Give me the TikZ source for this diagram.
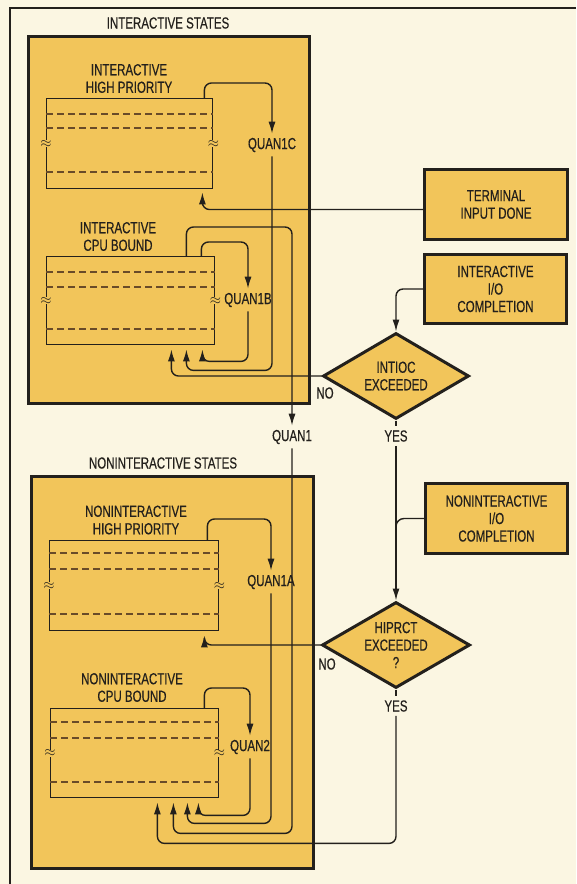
\documentclass[tikz,border=0pt]{standalone}
\usepackage{fontspec}
\setmainfont{Liberation Sans}[FakeStretch=0.72,FakeBold=0.4]
\usetikzlibrary{arrows.meta,shapes.geometric,calc}
\definecolor{bg}{RGB}{251,246,226}
\definecolor{gold}{RGB}{242,197,90}
\definecolor{ink}{RGB}{35,32,28}
\definecolor{dashc}{RGB}{105,75,40}
\begin{document}
\begin{tikzpicture}[x=1pt,y=-1pt,
  font=\fontsize{16}{17.5}\selectfont,
  every node/.style={text=ink},
  statebox/.style={draw=ink,fill=gold,line width=3pt,anchor=north west,inner sep=0pt},
  sidebox/.style={draw=ink,fill=gold,line width=3pt,anchor=north west,inner sep=0pt,align=center},
  queue/.style={draw=ink,line width=1.4pt,anchor=north west,inner sep=0pt},
  qdash/.style={draw=dashc,line width=1.2pt,dash pattern=on 7pt off 4pt},
  conn/.style={draw=ink,line width=1.4pt,rounded corners=7pt},
  arr/.style={-{Latex[length=12pt,width=7pt]}},
  decision/.style={diamond,draw=ink,fill=gold,line width=3pt,inner sep=0pt},
  lbl/.style={align=center,inner sep=1pt},
  qlbl/.style={inner xsep=1pt,inner ysep=4pt},
  tilde/.style={fill=gold,inner sep=0.2pt,font=\fontsize{14}{14}\selectfont},
]
\fill[bg] (0,0) rectangle (576,884);
\useasboundingbox (0,0) rectangle (576,884);
\draw[ink,line width=2pt] (10,884) -- (10,8) -- (576,8);

% state boxes
\node[statebox,minimum width=281pt,minimum height=367pt] (s1) at (27,35) {};
\node[statebox,minimum width=282pt,minimum height=392pt] (s2) at (30,475) {};
\node[lbl] (s1t) at (168,23) {INTERACTIVE STATES};
\node[lbl] (s2t) at (163,463) {NONINTERACTIVE STATES};

% queues
\node[queue,minimum width=166pt,minimum height=90pt] (q1) at (46,98) {};
\node[queue,minimum width=168pt,minimum height=88pt] (q2) at (46,256) {};
\node[queue,minimum width=169pt,minimum height=90pt] (q3) at (49,540) {};
\node[queue,minimum width=168pt,minimum height=89pt] (q4) at (50,708) {};
\foreach \d in {16,30,74} \draw[qdash] ([yshift=-\d]q1.north west) -- ([yshift=-\d]q1.north east);
\foreach \d in {16,31,73} \draw[qdash] ([yshift=-\d]q2.north west) -- ([yshift=-\d]q2.north east);
\foreach \d in {13,29,74} \draw[qdash] ([yshift=-\d]q3.north west) -- ([yshift=-\d]q3.north east);
\foreach \d in {14,30,74} \draw[qdash] ([yshift=-\d]q4.north west) -- ([yshift=-\d]q4.north east);
\node[tilde] (q1a) at (q1.west) {$\approx$};
\node[tilde] (q1b) at (q1.east) {$\approx$};
\node[tilde] (q2a) at (q2.west) {$\approx$};
\node[tilde] (q2b) at (q2.east) {$\approx$};
\node[tilde] (q3a) at (q3.west) {$\approx$};
\node[tilde] (q3b) at (q3.east) {$\approx$};
\node[tilde] (q4a) at (q4.west) {$\approx$};
\node[tilde] (q4b) at (q4.east) {$\approx$};
\node[lbl] (q1t) at (129,78.5) {INTERACTIVE\\HIGH PRIORITY};
\node[lbl] (q2t) at (118,236.5) {INTERACTIVE\\CPU BOUND};
\node[lbl] (q3t) at (136,520) {NONINTERACTIVE\\HIGH PRIORITY};
\node[lbl] (q4t) at (132,687.5) {NONINTERACTIVE\\CPU BOUND};

% side boxes
\node[sidebox,minimum width=143pt,minimum height=70pt] (tid) at (423,168) {TERMINAL\\INPUT DONE};
\node[sidebox,minimum width=142pt,minimum height=69pt] (iio) at (423,253) {INTERACTIVE\\I/O\\COMPLETION};
\node[sidebox,minimum width=142pt,minimum height=70pt] (nio) at (424,482) {NONINTERACTIVE\\I/O\\COMPLETION};

% decisions
\node[decision,minimum width=146pt,minimum height=86pt,label={[lbl]center:INTIOC\\EXCEEDED}] (d1) at (396,376) {};
\node[decision,minimum width=148pt,minimum height=86pt,label={[lbl]center:HIPRCT\\EXCEEDED\\?}] (d2) at (396,645) {};

% connector labels
\node[qlbl] (l1c) at (272,145) {QUAN1C};
\node[qlbl] (l1b) at (248,300) {QUAN1B};
\node[qlbl] (l1) at (292,437) {QUAN1};
\node[qlbl] (l1a) at (271,582) {QUAN1A};
\node[qlbl] (l2) at (250,747) {QUAN2};
\node[qlbl] (no1) at (325,393) {NO};
\node[qlbl] (yes1) at (396,436) {YES};
\node[qlbl] (no2) at (327,664) {NO};
\node[qlbl] (yes2) at (396,706) {YES};

% connectors
\draw[conn,arr] ([xshift=-9]q1.north east) -- ++(0,-15) -| (l1c.north);
\draw[conn,arr] (l1c.south) |- ([xshift=-29,yshift=-25]q2.south east) -- ([xshift=-29,yshift=-4]q2.south east);
\draw[conn,arr] ([xshift=-14]q2.north east) -- ++(0,-14) -| (l1b.north);
\draw[conn,arr] (l1b.south) |- ([xshift=-13,yshift=-16]q2.south east) -- ([xshift=-13,yshift=-4]q2.south east);
\draw[conn,arr] ([xshift=-29]q2.north east) -- ++(0,-29) -| (l1.north);
\draw[conn,arr] ([yshift=-5]tid.west) -| ([xshift=-11,yshift=-3]q1.south east);
\draw[conn,arr] (iio.west) -| (d1.north);
\draw[conn,arr] (d1.west) -| ([xshift=-44,yshift=-4]q2.south east);
\draw[conn] (d1.south) -- (yes1.north);
\draw[conn,arr] (yes1.south) -- (d2.north);
\draw[conn,rounded corners=8pt] (nio.west) -| ([yshift=70]d2.north);
\draw[conn,arr] (d2.west) -| ([xshift=-15,yshift=-4]q3.south east);
\draw[conn,arr] ([xshift=-12]q3.north east) -- ++(0,-21) -| (l1a.north);
\draw[conn,arr] (l1a.south) |- ([xshift=-32,yshift=-25]q4.south east) -- ([xshift=-32,yshift=-4]q4.south east);
\draw[conn,arr] (l1.south) |- ([xshift=-46,yshift=-35]q4.south east) -- ([xshift=-46,yshift=-4]q4.south east);
\draw[conn,arr] ([xshift=-15]q4.north east) -- ++(0,-20) -| (l2.north);
\draw[conn,arr] (l2.south) |- ([xshift=-21,yshift=-17]q4.south east) -- ([xshift=-21,yshift=-4]q4.south east);
\draw[conn] (d2.south) -- (yes2.north);
\draw[conn,arr] (yes2.south) |- ([xshift=-62,yshift=-45]q4.south east) -- ([xshift=-62,yshift=-4]q4.south east);
\end{tikzpicture}
\end{document}
